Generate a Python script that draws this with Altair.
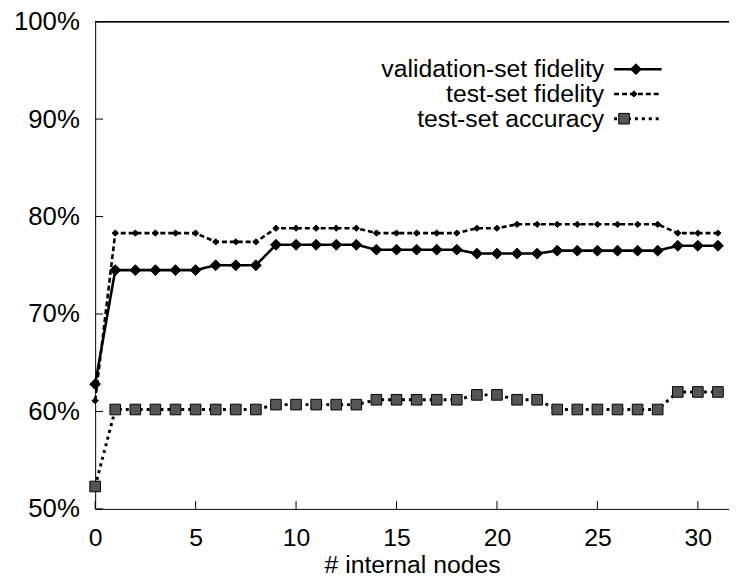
import altair as alt
import pandas as pd

# ---- data ----
nodes = list(range(32))
validation_fidelity = [62.8, 74.5, 74.5, 74.5, 74.5, 74.5, 75.0, 75.0, 75.0, 77.1,
                       77.1, 77.1, 77.1, 77.1, 76.6, 76.6, 76.6, 76.6, 76.6, 76.2,
                       76.2, 76.2, 76.2, 76.5, 76.5, 76.5, 76.5, 76.5, 76.5, 77.0,
                       77.0, 77.0]
test_fidelity = [61.1, 78.3, 78.3, 78.3, 78.3, 78.3, 77.4, 77.4, 77.4, 78.8,
                 78.8, 78.8, 78.8, 78.8, 78.3, 78.3, 78.3, 78.3, 78.3, 78.8,
                 78.8, 79.2, 79.2, 79.2, 79.2, 79.2, 79.2, 79.2, 79.2, 78.3,
                 78.3, 78.3]
test_accuracy = [52.3, 60.2, 60.2, 60.2, 60.2, 60.2, 60.2, 60.2, 60.2, 60.7,
                 60.7, 60.7, 60.7, 60.7, 61.2, 61.2, 61.2, 61.2, 61.2, 61.7,
                 61.7, 61.2, 61.2, 60.2, 60.2, 60.2, 60.2, 60.2, 60.2, 62.0,
                 62.0, 62.0]
series_names = ["validation-set fidelity", "test-set fidelity", "test-set accuracy"]
x_ticks = [0, 5, 10, 15, 20, 25, 30]
y_ticks = [50, 60, 70, 80, 90, 100]

FONT = "Liberation Sans"
W, H = 640, 492

rows = []
for name, vals in zip(series_names, [validation_fidelity, test_fidelity, test_accuracy]):
    for n, v in zip(nodes, vals):
        rows.append({"nodes": n, "value": v, "series": name})
df = pd.DataFrame(rows)

sx = alt.Scale(domain=[0, 31.55], nice=False, zero=False)
sy = alt.Scale(domain=[50, 100], nice=False, zero=False)

ax_x = alt.Axis(values=x_ticks, title="# internal nodes", labelFont=FONT, labelFontSize=25,
                labelColor="black", labelPadding=17, labelFlush=False, labelOverlap=False,
                ticks=False, tickSize=0, grid=False, domainColor="black", domainWidth=1,
                titleFont=FONT, titleFontSize=25, titleFontWeight="normal", titleColor="black",
                titleBaseline="alphabetic", titleY=64)
ax_y = alt.Axis(values=y_ticks, title=None, labelExpr="datum.value + '%'", labelFont=FONT,
                labelFontSize=26, labelColor="black", labelPadding=16, labelFlush=False,
                labelOverlap=False, ticks=False, tickSize=0, grid=False, domainColor="black",
                domainWidth=1)

X = alt.X("nodes:Q", scale=sx, axis=ax_x)
Y = alt.Y("value:Q", scale=sy, axis=ax_y)

styles = {
    "validation-set fidelity": dict(dash=[1, 0], width=2.6, shape="diamond", size=120, fill="black", moff=22),
    "test-set fidelity": dict(dash=[5, 3], width=2.6, shape="diamond", size=40, fill="black", moff=20),
    "test-set accuracy": dict(dash=[3, 4], width=3, shape="square", size=115, fill="#555555", moff=10),
}

layers = []

# inward ticks
xt = pd.DataFrame({"t": x_ticks})
yt = pd.DataFrame({"t": y_ticks})
layers.append(alt.Chart(xt).mark_rule(color="black", strokeWidth=1).encode(
    x=alt.X("t:Q", scale=sx, axis=ax_x), y=alt.value(H), y2=alt.value(H - 8)))
layers.append(alt.Chart(yt).mark_rule(color="black", strokeWidth=1).encode(
    y=alt.Y("t:Q", scale=sy, axis=ax_y), x=alt.value(0), x2=alt.value(8)))
# top border
layers.append(alt.Chart(xt).mark_rule(color="black", strokeWidth=1).encode(
    x=alt.value(0), x2=alt.value(W), y=alt.value(0)))

for name in reversed(series_names):
    st = styles[name]
    base = alt.Chart(df).transform_filter(alt.datum.series == name)
    layers.append(base.mark_line(color="black", strokeWidth=st["width"], strokeDash=st["dash"],
                                 strokeCap="butt").encode(x=X, y=Y))
    layers.append(base.mark_point(shape=st["shape"], size=st["size"], filled=True, fill=st["fill"],
                                  stroke="black", strokeWidth=1, opacity=1).encode(x=X, y=Y))

# legend (labels left, samples right)
for i, name in enumerate(series_names):
    st = styles[name]
    ypos = 48 + 25 * i
    ld = pd.DataFrame({"label": [name]})
    layers.append(alt.Chart(ld).mark_text(align="right", baseline="middle", font=FONT, fontSize=25,
                                          color="black").encode(
        text="label:N", x=alt.value(514), y=alt.value(ypos)))
    layers.append(alt.Chart(ld).mark_rule(color="black", strokeWidth=st["width"], strokeDash=st["dash"],
                                          strokeCap="butt").encode(
        x=alt.value(524), x2=alt.value(572), y=alt.value(ypos)))
    layers.append(alt.Chart(ld).mark_point(shape=st["shape"], size=st["size"], filled=True,
                                           fill=st["fill"], stroke="black", strokeWidth=1,
                                           opacity=1).encode(
        x=alt.value(524 + st["moff"]), y=alt.value(ypos)))

chart = alt.layer(*layers).properties(
    width=W, height=H,
    padding={"left": 88, "top": 11, "right": 0, "bottom": 66},
    autosize=alt.AutoSizeParams(type="none"),
    background="white",
).configure_view(strokeWidth=0)

chart.save("out.html", embed_options={"renderer": "svg", "actions": False})
